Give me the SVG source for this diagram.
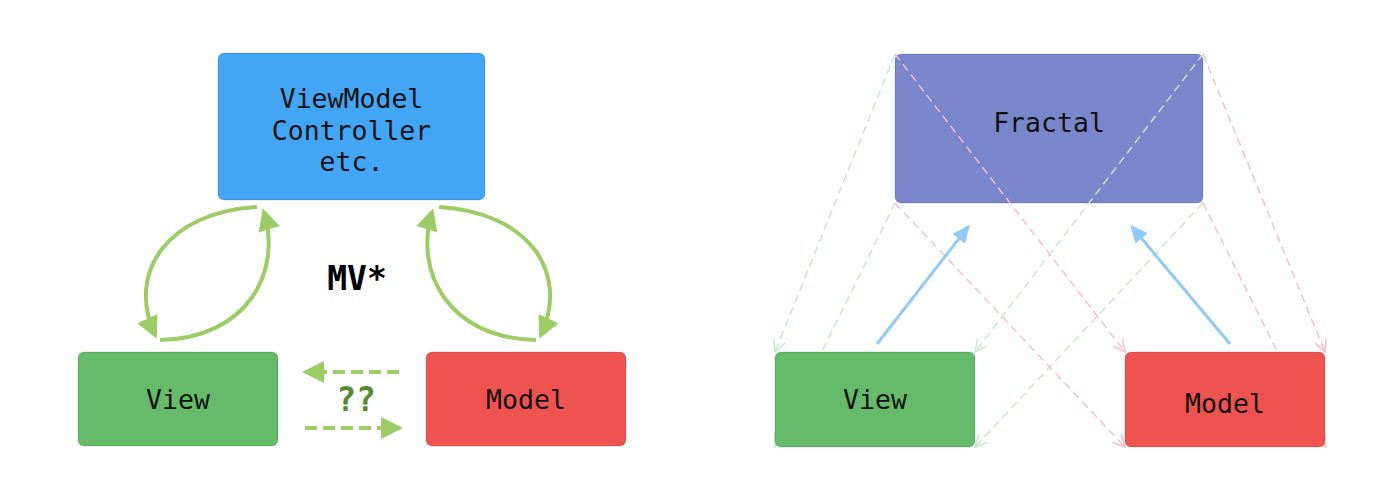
<svg xmlns="http://www.w3.org/2000/svg" width="1400" height="489" viewBox="0 0 1400 489">
<style>
.box{stroke:#000;stroke-opacity:0.15;stroke-width:1}
.lbl{font-family:"DejaVu Sans Mono",monospace;font-size:26.5px;fill:#111;text-anchor:middle}
.big{font-family:"DejaVu Sans Mono",monospace;font-size:33px;font-weight:bold;text-anchor:middle}
.curve{fill:none;stroke:#9CCC65;stroke-width:4}
.gdash{fill:none;stroke:#9CCC65;stroke-width:4;stroke-dasharray:12 6}
.blue{fill:none;stroke:#90CAF9;stroke-width:3}
.lg{fill:none;stroke:#C8E6C9;stroke-width:1.5;stroke-dasharray:8 5}
.lp{fill:none;stroke:#F8BBD0;stroke-width:1.5;stroke-dasharray:8 5}
</style>
<defs>
<marker id="ga" markerUnits="userSpaceOnUse" viewBox="0 0 22 22" markerWidth="22" markerHeight="22" refX="18" refY="11" orient="auto">
<path d="M0,0 L22,11 L0,22 z" fill="#9CCC65"/>
</marker>
<marker id="gd" markerUnits="userSpaceOnUse" viewBox="0 0 22 22" markerWidth="22" markerHeight="22" refX="0" refY="11" orient="auto">
<path d="M0,0 L22,11 L0,22 z" fill="#9CCC65"/>
</marker>
<marker id="ba" markerUnits="userSpaceOnUse" viewBox="0 0 18 16" markerWidth="18" markerHeight="16" refX="15" refY="8" orient="auto">
<path d="M0,0 L18,8 L0,16 z" fill="#90CAF9"/>
</marker>
<marker id="og" markerUnits="userSpaceOnUse" viewBox="0 0 14 14" markerWidth="14" markerHeight="14" refX="13" refY="7" orient="auto">
<path d="M1,1 L13,7 L1,13" fill="none" stroke="#C8E6C9" stroke-width="1.5"/>
</marker>
<marker id="op" markerUnits="userSpaceOnUse" viewBox="0 0 14 14" markerWidth="14" markerHeight="14" refX="13" refY="7" orient="auto">
<path d="M1,1 L13,7 L1,13" fill="none" stroke="#F8BBD0" stroke-width="1.5"/>
</marker>
</defs>

<g id="node-viewmodel">
<rect class="box" x="218" y="53" width="267" height="147" rx="6" fill="#42A5F5"/>
<text class="lbl" x="351.5" y="108">ViewModel</text>
<text class="lbl" x="351.5" y="140">Controller</text>
<text class="lbl" x="351.5" y="171">etc.</text>
</g>
<g id="node-view-left">
<rect class="box" x="78" y="352" width="200" height="94" rx="6" fill="#66BB6A"/>
<text class="lbl" x="178" y="409">View</text>
</g>
<g id="node-model-left">
<rect class="box" x="426" y="352" width="200" height="94" rx="6" fill="#EF5350"/>
<text class="lbl" x="526" y="409">Model</text>
</g>
<g id="label-mvstar">
<text class="big" x="357" y="290" fill="#000">MV*</text>
</g>
<g id="label-qq">
<text class="big" x="356" y="411" fill="#558B2F">??</text>
</g>

<g id="node-fractal">
<rect class="box" x="895" y="54" width="308" height="149" rx="6" fill="#7986CB"/>
<text class="lbl" x="1049" y="132">Fractal</text>
</g>

<g id="connectors">
<path class="curve" d="M257,207 C168,212 126,272 155,335" marker-end="url(#ga)"/>
<path class="curve" d="M160,340 C248,338 282,272 264,212" marker-end="url(#ga)"/>
<path class="curve" d="M439,207 C528,212 570,272 541,335" marker-end="url(#ga)"/>
<path class="curve" d="M536,340 C448,338 414,272 432,212" marker-end="url(#ga)"/>
<path class="gdash" d="M399,372 L324,372" marker-end="url(#gd)"/>
<path class="gdash" d="M305,428 L381,428" marker-end="url(#gd)"/>

<path class="lg" d="M895,54 L775,352" marker-end="url(#og)"/>
<path class="lg" d="M895,203 L775,447" marker-end="url(#og)"/>
<path class="lg" d="M1203,54 L975,352" marker-end="url(#og)"/>
<path class="lg" d="M1203,203 L975,447" marker-end="url(#og)"/>
<path class="lp" d="M895,54 L1125,352" marker-end="url(#op)"/>
<path class="lp" d="M895,203 L1125,447" marker-end="url(#op)"/>
<path class="lp" d="M1203,54 L1325,352" marker-end="url(#op)"/>
<path class="lp" d="M1203,203 L1325,447" marker-end="url(#op)"/>
<path class="blue" d="M877,344 L968,227" marker-end="url(#ba)"/>
<path class="blue" d="M1230,344 L1132,227" marker-end="url(#ba)"/>
</g>

<g id="node-view-right">
<rect class="box" x="775" y="352" width="200" height="95" rx="6" fill="#66BB6A"/>
<text class="lbl" x="875" y="409">View</text>
</g>
<g id="node-model-right">
<rect class="box" x="1125" y="352" width="200" height="95" rx="6" fill="#EF5350"/>
<text class="lbl" x="1225" y="413">Model</text>
</g>
</svg>
